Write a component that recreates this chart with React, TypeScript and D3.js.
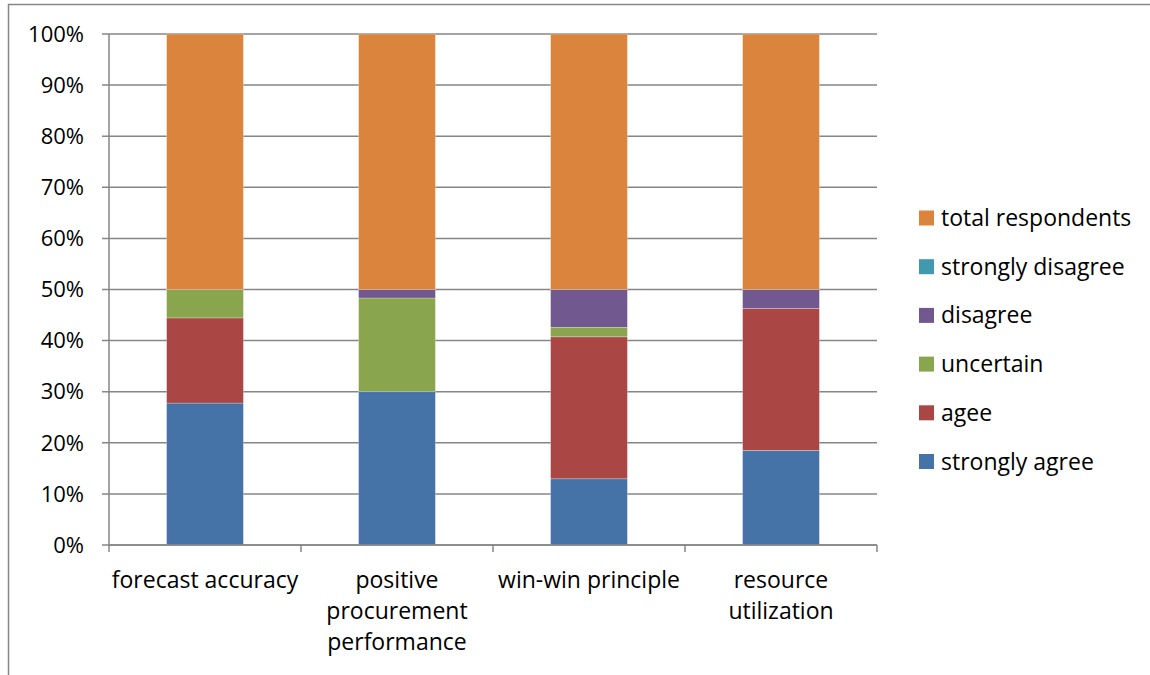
import React from "react";
import * as d3 from "d3";

const categories = [
  ["forecast accuracy"],
  ["positive", "procurement", "performance"],
  ["win-win principle"],
  ["resource", "utilization"],
];
const seriesNames = ["strongly agree", "agee", "uncertain", "disagree", "strongly disagree", "total respondents"];
const seriesColors = ["#4572A7", "#AA4643", "#89A54E", "#71588F", "#4198AF", "#DB843D"];
const stronglyAgree = [20, 18, 7, 10];
const agree = [12, 0, 15, 15];
const uncertain = [4, 11, 1, 0];
const disagree = [0, 1, 4, 2];
const stronglyDisagree = [0, 0, 0, 0];
const totalRespondents = [36, 30, 27, 27];
const yTicks = [0, 0.1, 0.2, 0.3, 0.4, 0.5, 0.6, 0.7, 0.8, 0.9, 1];

const W = 1150, H = 675;
const left = 109, right = 877, top = 34, bottom = 545;
const FONT = "'Open Sans', sans-serif";
const FS = 23;

export default function App() {
  const seriesVals = [stronglyAgree, agree, uncertain, disagree, stronglyDisagree, totalRespondents];
  const rows = categories.map((c, i) => {
    const r: any = { key: i };
    seriesNames.forEach((s, j) => (r[s] = seriesVals[j][i]));
    return r;
  });
  const stack = d3.stack().keys(seriesNames).offset(d3.stackOffsetExpand);
  const stacked = stack(rows);
  const x = d3.scaleBand<number>().domain(categories.map((_, i) => i)).range([left, right]).paddingInner(0.6).paddingOuter(0.3);
  const band = d3.scaleBand<number>().domain(categories.map((_, i) => i)).range([left, right]);
  const y = d3.scaleLinear().domain([0, 1]).range([bottom, top]);
  const fmt = d3.format(".0%");
  const legendOrder = [5, 4, 3, 2, 1, 0];
  return (
    <svg width={W} height={H} style={{ position: "absolute", left: 0, top: 0, background: "#fff" }} fontFamily={FONT}>
      <rect x={8.5} y={4.5} width={1200} height={800} fill="#fff" stroke="#868686" strokeWidth={1.5} />
      {yTicks.map((t) => (
        <g key={t}>
          <line x1={left - 7} x2={right} y1={y(t)} y2={y(t)} stroke="#868686" strokeWidth={1.5} />
          <text x={84} y={y(t)} dy="0.35em" textAnchor="end" fontSize={22} fill="#000">{fmt(t)}</text>
        </g>
      ))}
      {stacked.map((s, j) => (
        <g key={s.key} fill={seriesColors[j]}>
          {s.map((d, i) => {
            const h = y(d[0]) - y(d[1]);
            if (h <= 0) return null;
            return <rect key={i} x={x(i)} y={y(d[1])} width={x.bandwidth()} height={h} stroke="#ffffff" strokeOpacity={0.35} strokeWidth={0.75} />;
          })}
        </g>
      ))}
      <line x1={left} x2={left} y1={top} y2={bottom} stroke="#868686" strokeWidth={1.5} />
      <line x1={left} x2={right} y1={bottom} y2={bottom} stroke="#868686" strokeWidth={1.5} />
      {[0, 1, 2, 3, 4].map((k) => {
        const xx = k < 4 ? band(k)! : right;
        return <line key={k} x1={xx} x2={xx} y1={bottom} y2={bottom + 7} stroke="#868686" strokeWidth={1.5} />;
      })}
      {categories.map((lines, i) => (
        <text key={i} x={band(i)! + band.bandwidth() / 2} y={580} textAnchor="middle" fontSize={FS} fill="#000">
          {lines.map((l, k) => (
            <tspan key={k} x={band(i)! + band.bandwidth() / 2} y={580 + k * 31} dy="0.35em">{l}</tspan>
          ))}
        </text>
      ))}
      {legendOrder.map((j, k) => (
        <g key={j} transform={`translate(919, ${218 + k * 48.7})`}>
          <rect x={0} y={-7.5} width={15} height={15} fill={seriesColors[j]} />
          <text x={22} y={0} dy="0.35em" fontSize={FS} fill="#000">{seriesNames[j]}</text>
        </g>
      ))}
    </svg>
  );
}
